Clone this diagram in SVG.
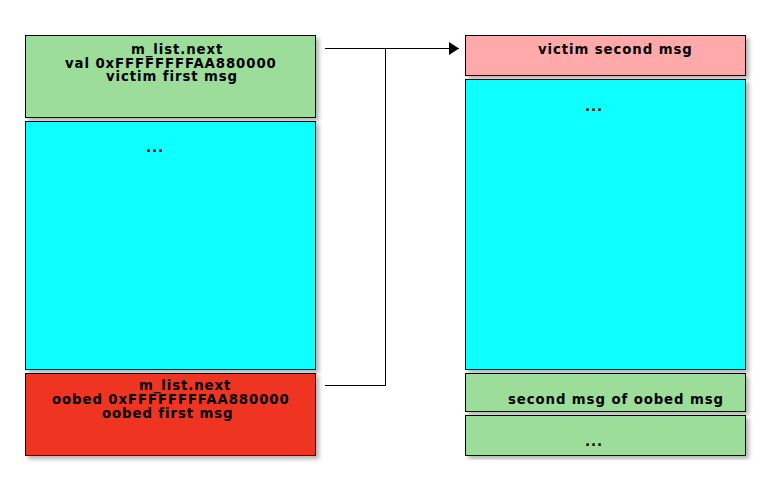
<svg xmlns="http://www.w3.org/2000/svg" width="770" height="490" viewBox="0 0 770 490">
<style>
.box{stroke:#000;stroke-width:1;filter:url(#sh)}
.g{fill:#9ddd9a}.c{fill:#10ffff}.p{fill:#ffaaaa}.r{fill:#ef3424}
text{font-family:"DejaVu Sans",sans-serif;font-weight:bold;font-size:13.3px;letter-spacing:0.9px;fill:#000}
.w{stroke:#000;stroke-width:1;fill:none}
</style>
<defs>
<filter id="sh" x="-5%" y="-5%" width="115%" height="115%">
<feDropShadow dx="3" dy="3" stdDeviation="2" flood-color="#000" flood-opacity="0.3"/>
</filter>
<marker id="ah" markerWidth="12" markerHeight="14" refX="10" refY="6.5" orient="auto" markerUnits="userSpaceOnUse">
<path d="M0,0 L10,6.5 L0,13 Z" fill="#000"/>
</marker>
</defs>
<rect width="770" height="490" fill="#fff"/>
<g id="victim1">
<rect class="box g" x="25.5" y="35.5" width="290" height="82"/>
<text x="131" y="54">m_list.next</text>
<text x="65" y="67.5">val 0xFFFFFFFFAA880000</text>
<text x="106" y="81">victim first msg</text>
</g>
<g id="leftmid">
<rect class="box c" x="25.5" y="121.5" width="290" height="248"/>
<text x="146" y="152">...</text>
</g>
<g id="oobed1">
<rect class="box r" x="25.5" y="373.5" width="290" height="82"/>
<text x="139" y="390">m_list.next</text>
<text x="52" y="404">oobed 0xFFFFFFFFAA880000</text>
<text x="102" y="417.5">oobed first msg</text>
</g>
<g id="victim2">
<rect class="box p" x="465.5" y="35.5" width="280" height="40"/>
<text x="538" y="54">victim second msg</text>
</g>
<g id="rightmid">
<rect class="box c" x="465.5" y="79.5" width="280" height="290"/>
<text x="585" y="111">...</text>
</g>
<g id="oobed2">
<rect class="box g" x="465.5" y="373.5" width="280" height="38"/>
<text x="508" y="404">second msg of oobed msg</text>
</g>
<g id="rightbot">
<rect class="box g" x="465.5" y="415.5" width="280" height="40"/>
<text x="585" y="446">...</text>
</g>
<g id="connectors">
<path class="w" d="M325,48.5 H459" marker-end="url(#ah)"/>
<path class="w" d="M325,385.5 H385.5 V48.5"/>
</g>
</svg>
